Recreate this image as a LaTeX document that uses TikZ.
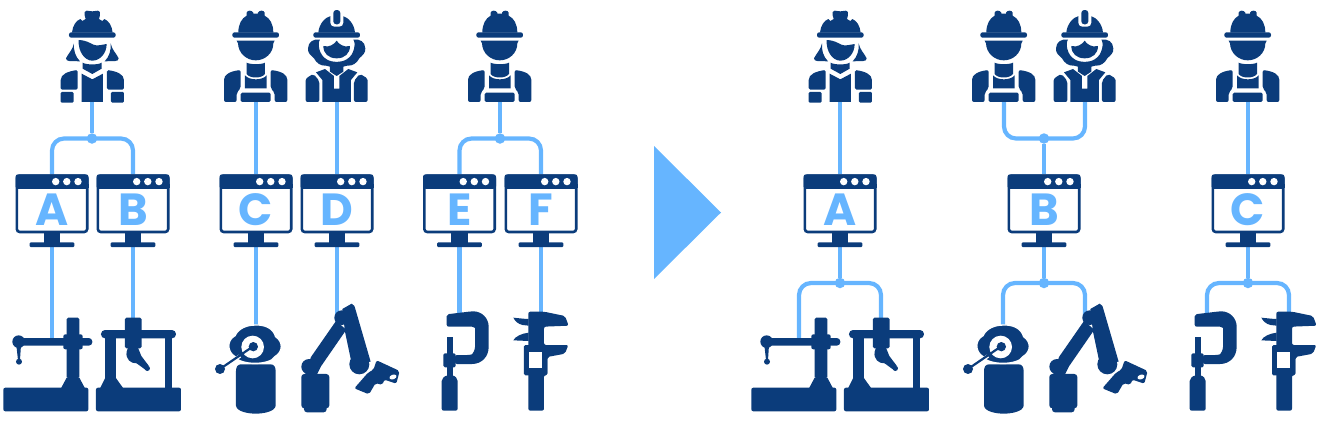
\documentclass[tikz,border=0pt]{standalone}
\usepackage{fontspec}
\setsansfont{Poppins}
\pgfdeclarelayer{bg}
\pgfsetlayers{bg,main}
\definecolor{dk}{HTML}{0B3C7B}
\definecolor{lt}{HTML}{66B5FF}
\tikzset{
  x=1pt,y=-1pt,
  dkf/.style={fill=dk,draw=none},
  whf/.style={fill=white,draw=none},
  conn/.style={draw=lt,line width=4.2pt},
  endpt/.style={inner sep=0pt,minimum size=0pt,outer sep=0pt},
  dot/.style={circle,fill=lt,draw=none,inner sep=0pt,minimum size=10.5pt},
  monitor/.style={draw=dk,fill=white,line width=2.6pt,rounded corners=3pt,minimum width=70.4pt,minimum height=56.4pt,inner sep=0pt,outer sep=1.3pt},
  letter/.style={font=\sffamily\bfseries\fontsize{45}{45}\selectfont,text=lt,inner sep=0pt,yshift=-5.4pt},
  pics/screen/.style={code={
    \fill[dkf,rounded corners=2.5pt] (-36.5,-29.5) rectangle (36.5,-15);
    \fill[dkf] (-36.5,-20) rectangle (36.5,-15.5);
    \foreach \d in {3.7,14.8,26}{\fill[whf] (\d,-22.2) circle (3.7pt);}
    \fill[dkf] (-8.2,29) rectangle (8.2,39.5);
    \fill[dkf,rounded corners=1.2pt] (-22.3,38.5) rectangle (22.3,43.4);
  }},
  pics/womana/.style={code={
    \fill[dkf,rounded corners=2.2pt] (207,97) rectangle (347,113);
    \fill[dkf] (216,98) .. controls (218,77) and (228,62) .. (241,57) -- (247,63) -- (257,57) -- (254,46) -- (254,36) -- (260,32) -- (277,34) -- (294,32) -- (300,36) -- (300,46) -- (297,57) -- (307,63) -- (313,57) .. controls (326,62) and (336,77) .. (338,98) -- cycle;
    \fill[dkf] (222,130) .. controls (218,150) and (205,160) .. (198,175) .. controls (198,180) and (202,183) .. (208,183) -- (240,184) .. controls (226,170) and (220,150) .. (222,130) -- cycle;
    \fill[dkf] (332,130) .. controls (336,150) and (349,160) .. (356,175) .. controls (356,180) and (352,183) .. (346,183) -- (314,184) .. controls (328,170) and (334,150) .. (332,130) -- cycle;
    \fill[dkf] (236,120) .. controls (258,121) and (268,128) .. (280,134) .. controls (292,139) and (306,134) .. (320,132) .. controls (320,160) and (300,182) .. (277,182) .. controls (254,182) and (234,155) .. (236,120) -- cycle;
    \fill[dkf] (248,188) .. controls (258,195) and (296,195) .. (305,188) -- (305,206) -- (277,222) -- (248,206) -- cycle;
    \fill[dkf] (245,221) -- (277,238) -- (309,221) -- (309,306) -- (245,306) -- cycle;
    \fill[dkf,rounded corners=1.5pt] (182,269) -- (182,245) .. controls (182,222) and (205,214) .. (233,210) -- (233,269) -- cycle;
    \fill[dkf,rounded corners=1.5pt] (372,269) -- (372,245) .. controls (372,222) and (349,214) .. (321,210) -- (321,269) -- cycle;
    \fill[dkf,rounded corners=1.2pt] (182,276) rectangle (221,308);
    \fill[dkf,rounded corners=1.2pt] (333,276) rectangle (372,308);
  }},
  pics/man/.style={code={
    \fill[dkf,rounded corners=2.2pt] (67,97) rectangle (207,113);
    \fill[dkf] (85,98) .. controls (85,72) and (95,55) .. (110,47) -- (110,38) .. controls (112,30) and (126,30) .. (130,38) -- (130,41) -- (144,41) -- (144,38) .. controls (148,30) and (162,30) .. (164,38) -- (164,47) .. controls (180,55) and (190,72) .. (190,98) -- cycle;
    \fill[dkf] (80,122) -- (194,122) -- (190,130) .. controls (190,160) and (165,181) .. (137,181) .. controls (110,181) and (85,160) .. (84,130) -- cycle;
    \fill[dkf] (110,188) .. controls (120,194) and (155,194) .. (165,188) -- (165,222) .. controls (155,236) and (120,236) .. (110,222) -- cycle;
    \fill[dkf] (105,226) .. controls (118,242) and (157,242) .. (170,226) -- (170,265) -- (105,265) -- cycle;
    \fill[dkf,rounded corners=1.5pt] (92,278) rectangle (182,306);
    \fill[dkf,rounded corners=2pt] (42,306) -- (42,245) .. controls (42,224) and (60,214) .. (92,210) -- (92,265) -- (80,278) -- (80,306) -- cycle;
    \fill[dkf,rounded corners=2pt] (232,306) -- (232,245) .. controls (232,224) and (214,214) .. (182,210) -- (182,265) -- (194,278) -- (194,306) -- cycle;
  }},
  pics/womanb/.style={code={
    \fill[dkf,rounded corners=2.2pt] (310,97) rectangle (450,113);
    \fill[dkf] (325,98) .. controls (327,72) and (345,52) .. (362,48) -- (398,48) .. controls (415,52) and (433,72) .. (435,98) -- cycle;
    \fill[whf,rounded corners=4pt] (361,24) rectangle (400,80);
    \fill[dkf,rounded corners=3pt] (370,30) rectangle (391,73);
    % hair
    \fill[dkf] (330,119) .. controls (322,128) and (326,165) .. (350,178) .. controls (365,188) and (395,188) .. (410,178) .. controls (434,165) and (438,128) .. (430,119) .. controls (450,116) and (465,125) .. (466,145) .. controls (467,160) and (458,165) .. (448,175) .. controls (440,190) and (428,198) .. (412,197) -- (400,200) -- (400,215) -- (380,228) -- (360,215) -- (360,200) -- (348,197) .. controls (332,198) and (320,190) .. (312,175) .. controls (302,165) and (293,160) .. (294,145) .. controls (295,125) and (310,116) .. (330,119) -- cycle;
    % face
    \fill[dkf] (340,138) .. controls (350,140) and (358,140) .. (364,136) .. controls (372,132) and (376,128) .. (380,122) .. controls (384,128) and (388,132) .. (396,136) .. controls (402,140) and (410,140) .. (420,138) .. controls (420,160) and (405,175) .. (380,175) .. controls (355,175) and (340,160) .. (340,138) -- cycle;
    % torso
    \fill[dkf] (337,306) -- (337,240) -- (318,217) -- (345,207) -- (372,228) -- (372,266) -- (388,266) -- (388,228) -- (415,207) -- (442,217) -- (423,240) -- (423,306) -- cycle;
    \fill[dkf,rounded corners=2pt] (287,306) -- (287,248) .. controls (287,235) and (297,228) .. (311,222) -- (328,243) -- (328,306) -- cycle;
    \fill[dkf,rounded corners=2pt] (473,306) -- (473,248) .. controls (473,235) and (463,228) .. (449,222) -- (432,243) -- (432,306) -- cycle;
  }},
  pics/cmmarm/.style={code={
    \fill[dkf,rounded corners=2pt] (10,278) rectangle (265,349);
    \fill[dkf] (183,280) -- (200,248) -- (238,248) -- (255,280) -- cycle;
    \fill[dkf,rounded corners=1.5pt] (200,68) rectangle (238,250);
    \fill[dkf,rounded corners=2pt] (190,118) rectangle (248,163);
    \fill[dkf,rounded corners=3.5pt] (55,129) rectangle (277,152);
    \fill[dkf] (56,140) circle (19);
    \fill[dkf] (49,150) -- (63,150) -- (60,195) -- (54,195) -- cycle;
    \fill[dkf] (57,200) circle (9);
  }},
  pics/cmmbridge/.style={code={
    \fill[dkf,rounded corners=2pt] (288,278) rectangle (543,349);
    \fill[dkf] (300,280) -- (316,248) -- (347,248) -- (370,280) -- cycle;
    \fill[dkf] (316,112) rectangle (347,250);
    \fill[dkf] (495,112) rectangle (517,280);
    \fill[dkf,rounded corners=4pt] (303,105) rectangle (528,130);
    \fill[dkf,rounded corners=1.5pt] (375,68) rectangle (425,160);
    \fill[dkf] (384,158) -- (414,158) -- (424,183) -- (446,212) -- (436,224) -- (410,205) .. controls (392,206) and (376,192) .. (380,170) -- cycle;
    \fill[dkf] (442,220) circle (8);
  }},
  pics/robotscan/.style={code={
    \fill[dkf] (93,228) .. controls (93,216) and (98,208) .. (108,208) -- (197,208) .. controls (207,208) and (212,216) .. (212,228) -- (212,332) .. controls (210,350) and (175,356) .. (152,356) .. controls (130,356) and (95,350) .. (93,332) -- cycle;
    \fill[dkf,draw=white,line width=1.4pt] (150,90) .. controls (180,88) and (205,100) .. (212,125) .. controls (235,140) and (235,170) .. (210,185) .. controls (195,212) and (105,212) .. (90,185) .. controls (65,170) and (65,135) .. (90,122) .. controls (100,100) and (125,90) .. (150,90) -- cycle;
    \fill[whf] (143,156) circle (34);
    \fill[dkf] (145,155) circle (14);
    \draw[white,line width=3.6pt] (105,183) -- (70,207);
    \draw[dk,line width=2.2pt] (143,155) -- (45,222);
    \fill[dkf] (45,222) circle (15);
  }},
  pics/robotarm/.style={code={
    \fill[dkf,rounded corners=3pt] (289,237) rectangle (373,340);
    \fill[dkf,rounded corners=3pt] (297,325) rectangle (365,352);
    \fill[dkf] (312,215) circle (23);
    \fill[dkf] (318,186) -- (393,78) -- (424,104) -- (348,214) -- (335,240) -- (300,240) -- cycle;
    \fill[dkf] (410,68) circle (22);
    \fill[dkf] (412,42) -- (440,26) .. controls (448,28) and (450,36) .. (452,45) -- (497,200) -- (440,205) -- (420,110) -- cycle;
    \fill[dkf] (463,208) circle (30);
    \fill[dkf,rounded corners=2pt] (515,196) -- (584,228) -- (574,266) -- (538,254) -- (532,270) -- (512,264) -- (492,298) -- (448,280) -- (490,232) -- (505,225) -- cycle;
    \fill[whf,rotate around={20:(564,246)}] (564,246) ellipse (11 and 7);
  }},
  pics/micro/.style={code={
    \fill[dkf,rounded corners=2pt] (50,58) -- (125,49) .. controls (155,49) and (176,70) .. (176,100) -- (176,150) .. controls (176,185) and (155,207) .. (120,207) -- (75,207) -- (75,180) -- (118,180) .. controls (128,178) and (135,165) .. (135,150) -- (135,105) .. controls (135,100) and (130,95) .. (120,95) -- (50,95) -- cycle;
    \fill[dkf] (50,125) rectangle (69,178);
    \fill[dkf,rounded corners=1.5pt] (40,175) rectangle (77,217);
    \fill[dkf] (50,215) rectangle (70,242);
    \fill[dkf,rounded corners=2pt] (35,347) -- (35,252) -- (50,240) -- (70,240) -- (83,252) -- (83,347) -- cycle;
  }},
  pics/caliper/.style={code={
    \fill[dkf,rounded corners=2pt] (295,347) -- (295,50) -- (342,50) -- (405,63) -- (416,92) -- (342,95) -- (342,150) -- (415,150) -- (405,176) -- (352,186) -- (352,240) -- (342,240) -- (342,347) -- cycle;
    \fill[dkf] (250,68) .. controls (270,70) and (285,72) .. (296,72) -- (296,92) -- (278,90) .. controls (265,88) and (255,78) .. (250,68) -- cycle;
    \fill[dkf] (250,136) .. controls (255,125) and (275,115) .. (296,113) -- (296,138) -- cycle;
    \fill[dkf,rounded corners=1.5pt] (282,150) rectangle (352,241);
    \fill[whf] (298,170) rectangle (335,218);
  }},
}
\begin{document}
\begin{tikzpicture}
\useasboundingbox (0,0) rectangle (1320,424);
% workers: connector ends
\node[endpt] (w1) at (92,100) {};
\node[endpt] (w2) at (256,100) {};
\node[endpt] (w3) at (337,100) {};
\node[endpt] (w4) at (500,100) {};
\node[endpt] (w5) at (840,100) {};
\node[endpt] (w6) at (1004,100) {};
\node[endpt] (w7) at (1085,100) {};
\node[endpt] (w8) at (1248,100) {};
% monitors
\node[monitor,label={[letter]center:A}] (mA) at (52,203.8) {};
\node[monitor,label={[letter]center:B}] (mB) at (133,203.8) {};
\node[monitor,label={[letter]center:C}] (mC) at (256,203.8) {};
\node[monitor,label={[letter]center:D}] (mD) at (337,203.8) {};
\node[monitor,label={[letter]center:E}] (mE) at (459.5,203.8) {};
\node[monitor,label={[letter]center:F}] (mF) at (541,203.8) {};
\node[monitor,label={[letter]center:A}] (nA) at (840,203.8) {};
\node[monitor,label={[letter]center:B}] (nB) at (1044,203.8) {};
\node[monitor,label={[letter]center:C}] (nC) at (1248,203.8) {};
\foreach \c in {52,133,256,337,459.5,541,840,1044,1248}{\pic at (\c,203.8) {screen};}
% machines: connector ends
\node[endpt] (t1) at (52,340) {};
\node[endpt] (t2) at (133,320) {};
\node[endpt] (t3) at (256,327) {};
\node[endpt] (t4) at (337,320) {};
\node[endpt] (t5) at (459.5,315) {};
\node[endpt] (t6) at (541,315) {};
\node[endpt] (u1) at (799,340) {};
\node[endpt] (u2) at (881,320) {};
\node[endpt] (u3) at (1003,327) {};
\node[endpt] (u4) at (1085,320) {};
\node[endpt] (u5) at (1207,315) {};
\node[endpt] (u6) at (1289,315) {};
% junctions
\node[dot] (j1) at (92,138.5) {};
\node[dot] (j2) at (500,138.5) {};
\node[dot] (j3) at (1044,138.5) {};
\node[dot] (k1) at (840,283) {};
\node[dot] (k2) at (1044,283) {};
\node[dot] (k3) at (1248,283) {};
\begin{pgfonlayer}{bg}
\draw[conn] (w1) -- (j1);
\draw[conn,rounded corners=12pt] (mA.north) |- (j1.center) -| (mB.north);
\draw[conn] (w2) -- (mC.north);
\draw[conn] (w3) -- (mD.north);
\draw[conn] (w4) -- (j2);
\draw[conn,rounded corners=12pt] (mE.north) |- (j2.center) -| (mF.north);
\draw[conn] (mA.south) -- (t1);
\draw[conn] (mB.south) -- (t2);
\draw[conn] (mC.south) -- (t3);
\draw[conn] (mD.south) -- (t4);
\draw[conn] (mE.south) -- (t5);
\draw[conn] (mF.south) -- (t6);
\draw[conn] (w5) -- (nA.north);
\draw[conn,rounded corners=12pt] (w6) |- (j3.center) -| (w7);
\draw[conn] (j3) -- (nB.north);
\draw[conn] (w8) -- (nC.north);
\draw[conn] (nA.south) -- (k1);
\draw[conn] (nB.south) -- (k2);
\draw[conn] (nC.south) -- (k3);
\draw[conn,rounded corners=12pt] (u1) |- (k1.center) -| (u2);
\draw[conn,rounded corners=12pt] (u3) |- (k2.center) -| (u4);
\draw[conn,rounded corners=12pt] (u5) |- (k3.center) -| (u6);
\end{pgfonlayer}
% arrow
\fill[lt] (654,146) -- (721,212.5) -- (654,279) -- cycle;
% workers
\pic[scale=0.3333] at (0,0) {womana};
\pic[scale=0.3333] at (210,0) {man};
\pic[scale=0.3333] at (210,0) {womanb};
\pic[scale=0.3333] at (454,0) {man};
\pic[scale=0.3333] at (748,0) {womana};
\pic[scale=0.3333] at (958,0) {man};
\pic[scale=0.3333] at (958,0) {womanb};
\pic[scale=0.3333] at (1202,0) {man};
% machines
\foreach \o in {0,748}{
  \pic[scale=0.3333] at (\o,295) {cmmarm};
  \pic[scale=0.3333] at (\o,295) {cmmbridge};
}
\foreach \o in {205,953}{
  \pic[scale=0.3333] at (\o,295) {robotscan};
  \pic[scale=0.3333] at (\o,295) {robotarm};
}
\foreach \o in {430,1178}{
  \pic[scale=0.3333] at (\o,295) {micro};
  \pic[scale=0.3333] at (\o,295) {caliper};
}
\end{tikzpicture}
\end{document}
